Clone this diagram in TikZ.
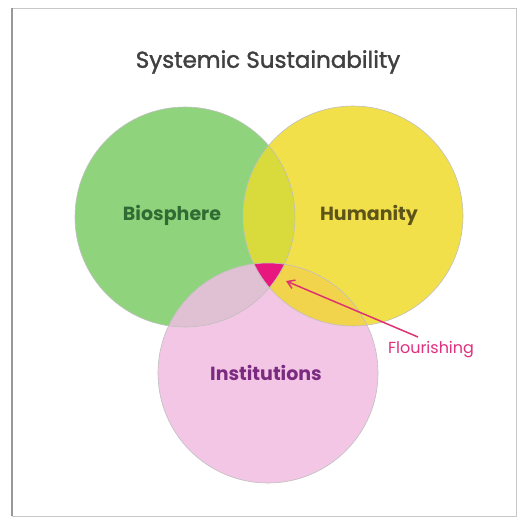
\documentclass[tikz,border=0pt]{standalone}
\usepackage{fontspec}
\setmainfont{Poppins}
\newfontfamily\titlefont[FakeBold=1.5]{Poppins}
\usetikzlibrary{arrows.meta}
\definecolor{cG}{HTML}{8FD47C}
\definecolor{cY}{HTML}{F2E04A}
\definecolor{cP}{HTML}{F3C6E6}
\definecolor{cGY}{HTML}{D8DB3B}
\definecolor{cPG}{HTML}{E0C1D3}
\definecolor{cPY}{HTML}{F1D34C}
\definecolor{cM}{HTML}{E8177F}
\definecolor{cArrow}{HTML}{DD3370}
\definecolor{tG}{HTML}{2F6B33}
\definecolor{tY}{HTML}{5C5418}
\definecolor{tP}{HTML}{7A2B80}
\definecolor{tF}{HTML}{E0307E}
\tikzset{
  venn/.style={circle, minimum size=220pt, inner sep=0pt},
  lbl/.style={font=\bfseries\fontsize{19}{22}\selectfont},
}
\begin{document}
\begin{tikzpicture}[x=1pt,y=-1pt]
\useasboundingbox (0,0) rectangle (521,517);
\fill[white] (0,0) rectangle (521,517);
% frame
\draw[black!22, line width=1pt] (12,8) rectangle (516,516);
\draw[black!40, line width=2pt] (12,8) -- (12,516);
% circles
\node[venn, fill=cG] (bio) at (185,217) {};
\node[venn, fill=cY] (hum) at (353,216) {};
\node[venn, fill=cP] (ins) at (268,373) {};
% overlaps
\begin{scope}
  \clip (185,217) circle (110);
  \fill[cGY] (353,216) circle (110);
\end{scope}
\begin{scope}
  \clip (268,373) circle (110);
  \fill[cPG] (185,217) circle (110);
  \fill[cPY] (353,216) circle (110);
\end{scope}
\begin{scope}
  \clip (185,217) circle (110);
  \clip (353,216) circle (110);
  \fill[cM] (268,373) circle (110);
\end{scope}
% outlines
\draw[black!25, line width=0.6pt] (185,217) circle (110);
\draw[black!25, line width=0.6pt] (353,216) circle (110);
\draw[black!25, line width=0.6pt] (268,373) circle (110);
% texts
\node[font=\titlefont\fontsize{23}{26}\selectfont, text=black!75] (title) at (268,62) {Systemic Sustainability};
\node[lbl, text=tG] (tbio) at (172,215) {Biosphere};
\node[lbl, text=tY] (thum) at (369,215) {Humanity};
\node[lbl, text=tP] (tins) at (266,373) {Institutions};
\node[font=\fontsize{16}{19}\selectfont, text=tF] (flour) at (431,350) {Flourishing};
\coordinate (tail) at (418,337);
\coordinate (tip) at (286,281);
\draw[cArrow, line width=1.5pt, -{Straight Barb[length=7pt,width=9pt]}] (tail) -- (tip);
\end{tikzpicture}
\end{document}
